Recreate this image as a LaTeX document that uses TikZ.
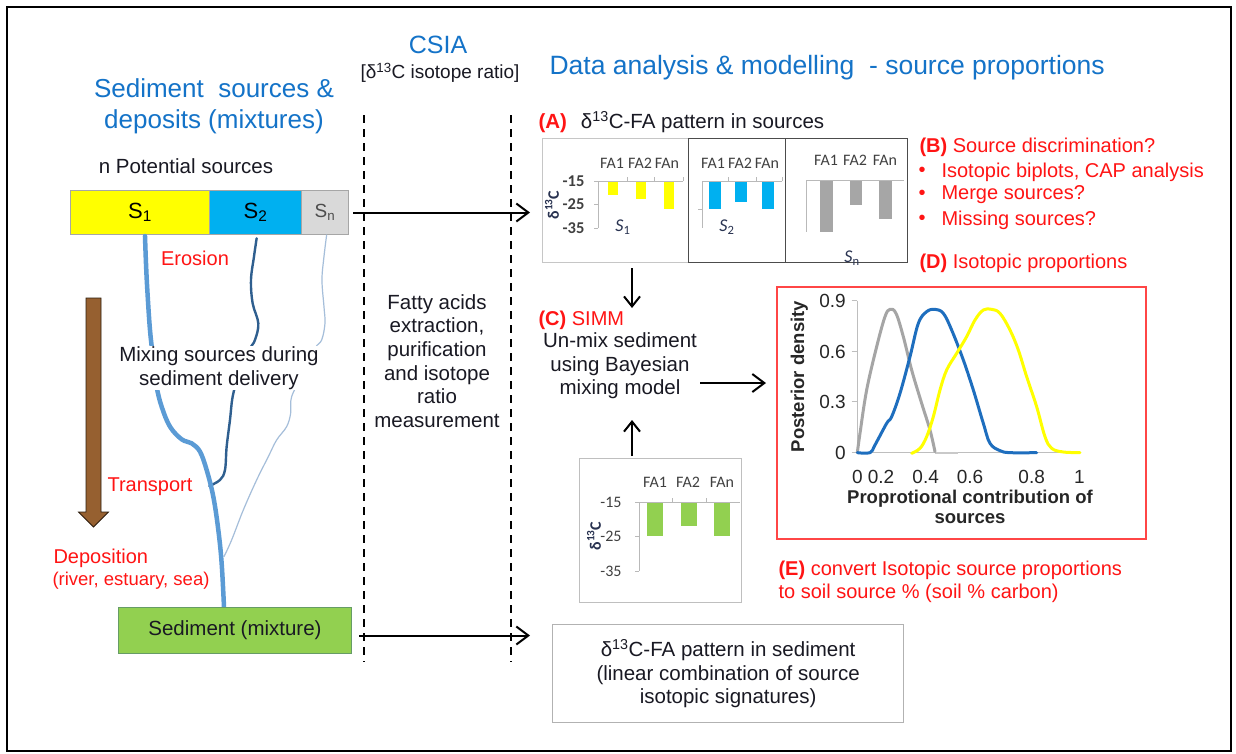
\documentclass[tikz,border=0pt]{standalone}
\usepackage{fontspec}
\setmainfont{Liberation Sans}
\newfontfamily\chartfont{Carlito}
\usetikzlibrary{arrows.meta,calc}

\definecolor{headblue}{RGB}{20,115,200}
\definecolor{txtred}{RGB}{255,20,20}
\definecolor{srcyellow}{RGB}{255,255,0}
\definecolor{srcblue}{RGB}{0,176,240}
\definecolor{srcgrey}{RGB}{217,217,217}
\definecolor{sedgreen}{RGB}{146,208,80}
\definecolor{riverlight}{RGB}{91,155,213}
\definecolor{riverdark}{RGB}{47,95,143}
\definecolor{riverpale}{RGB}{165,190,218}
\definecolor{barbrown}{RGB}{150,96,48}
\definecolor{curveblue}{RGB}{30,110,190}
\definecolor{curvegrey}{RGB}{165,165,165}
\definecolor{bargrey}{RGB}{166,166,166}
\definecolor{boxred}{RGB}{255,70,70}
\definecolor{axisgrey}{RGB}{190,190,190}
\definecolor{labelnavy}{RGB}{40,50,80}
\definecolor{bodytext}{RGB}{25,25,35}

\newcommand{\setfs}[2]{\fontsize{#1}{#2}\selectfont}

\begin{document}
\begin{tikzpicture}[x=1pt, y=-1pt,
  heading/.style={text=headblue, font=\setfs{26}{31}, align=center},
  body/.style={text=bodytext, font=\setfs{20.5}{23.6}, align=center},
  redlbl/.style={text=txtred, font=\setfs{20}{23.5}, align=left},
  arr/.style={-{Straight Barb[length=12pt,width=18pt]}, line width=2pt},
  divider/.style={line width=2.2pt, dash pattern=on 8pt off 6pt},
  srcbox/.style={draw=gray!70, line width=1pt, minimum height=44pt, inner sep=0pt, anchor=north west, font=\setfs{22}{24}},
  panel/.style={rectangle, anchor=north west, inner sep=0pt},
  falbl/.style={text=black!75, font=\chartfont\setfs{16}{18}},
  ticklbl/.style={text=black!75, font=\chartfont\setfs{16}{18}, anchor=east},
  boldtick/.style={ticklbl, font=\chartfont\bfseries\setfs{16.5}{18}},
  deltalbl/.style={falbl, rotate=90, text=labelnavy, font=\chartfont\bfseries\setfs{16}{18}},
  srclbl/.style={falbl, text=labelnavy, font=\chartfont\setfs{18}{20}},
  chartaxis/.style={draw=gray!55, line width=1pt},
  plotlbl/.style={text=black!85, font=\setfs{19}{21}},
  plotaxis/.style={font=\bfseries\setfs{18.5}{20}, text=black!85, align=center}
]
\useasboundingbox (0,0) rectangle (1236,753);
\fill[white] (0,0) rectangle (1236,753);
\draw[line width=2pt] (7,7) rectangle (1231,751);

% ---------- column headings ----------
\node[heading, font=\setfs{25}{28}] (csia) at (438,45) {CSIA};
\node[text=bodytext, font=\setfs{19}{22}] (csiasub) at (440,73) {[δ\textsuperscript{13}C isotope ratio]};
\node[heading] (sedhead) at (214,106) {Sediment\ \ sources \&\\deposits (mixtures)};
\node[heading, font=\setfs{26.5}{31}, anchor=west] (datahead) at (546,68) {Data analysis \& modelling\ \ - source proportions};

% ---------- dashed dividers ----------
\draw[divider] (364,115) -- (364,662);
\draw[divider] (511,115) -- (511,662);

% ---------- sources bar ----------
\node[body] (potential) at (186,166) {n Potential sources};
\node[srcbox, fill=srcyellow, minimum width=139pt] (s1) at (70,190) {S\textsubscript{1}};
\node[srcbox, fill=srcblue, minimum width=92pt] (s2) at (209,190) {S\textsubscript{2}};
\node[srcbox, fill=srcgrey, minimum width=47pt, text=black!70, font=\setfs{19}{22}] (sn) at (301,190) {S\textsubscript{n}};

% ---------- drainage network ----------
\begin{scope}[shift={(50,180)}, x=0.3333pt, y=-0.3333pt]
  \draw[riverpale, line width=1.2pt, line cap=round] plot[smooth, tension=0.6] coordinates
    {(830,165) (822,230) (816,300) (822,380) (825,430) (815,480) (795,505) (760,580) (725,650) (722,700) (710,740) (680,780) (655,830) (620,900) (580,990) (545,1080) (522,1130)};
  \draw[riverdark, line width=2.4pt, line cap=round] plot[smooth, tension=0.6] coordinates
    {(620,175) (612,230) (603,300) (608,370) (625,430) (615,480) (598,510) (565,590) (548,650) (540,720) (530,800) (525,870) (510,900) (478,918)};
  \draw[riverlight, line width=4.5pt, line cap=round] plot[smooth, tension=0.6] coordinates
    {(285,168) (288,250) (292,330) (300,450) (310,540) (320,620) (335,680) (360,740) (395,778) (425,790) (450,815) (470,870) (490,950) (505,1050) (515,1150) (522,1280)};
\end{scope}
\node[body, fill=white, inner sep=1pt] (mixing) at (219,368) {Mixing sources during\\sediment delivery};

% process arrow
\draw[draw=black!70!barbrown, fill=barbrown, line width=0.8pt]
  (86,298) -- (101,298) -- (101,512) -- (108.5,512) -- (93.5,527) -- (78.5,512) -- (86,512) -- cycle;

\node[redlbl] (erosion) at (195,258) {Erosion};
\node[redlbl] (transport) at (150,487) {Transport};
\node[redlbl, anchor=west] (deposition) at (50,558) {Deposition};
\node[redlbl, anchor=west, font=\setfs{18.5}{21}] (depsites) at (49,581) {(river, estuary, sea)};

% ---------- sediment ----------
\node[srcbox, fill=sedgreen, draw=green!35!black!60, minimum width=233pt, minimum height=46pt, font=\setfs{20.5}{23}, text=bodytext] (sed) at (118,607) {Sediment (mixture)};

% ---------- CSIA step ----------
\node[body] (fatty) at (437,361) {Fatty acids\\extraction,\\purification\\and isotope\\ratio\\measurement};

% ---------- (A) source patterns ----------
\node[text=bodytext, font=\setfs{20.5}{23}, anchor=west] (atitle) at (535,122)
  {{\color{txtred}\bfseries (A)}\hspace{14pt}δ\textsuperscript{13}C-FA pattern in sources};

\node[panel, draw=gray!45, line width=1pt, minimum width=146pt, minimum height=124pt] (panel1) at (542,138) {};
\node[panel, draw=gray!60!black, line width=1.4pt, minimum width=97pt, minimum height=124pt] (panel2) at (688,138) {};
\node[panel, draw=gray!60!black, line width=1.4pt, minimum width=122pt, minimum height=124pt] (panel3) at (785,138) {};

% panel 1
\node[falbl] at (612,163) {FA1};
\node[falbl] at (640,163) {FA2};
\node[falbl] at (667,163) {FAn};
\fill[srcyellow] (608,181) rectangle (618,195);
\fill[srcyellow] (636,181) rectangle (646,199);
\fill[srcyellow] (664,181) rectangle (674,209);
\draw[chartaxis] (598,181) -- (598,228) (594,181) -- (598,181) (594,204.5) -- (598,204.5) (594,228) -- (598,228);
\draw[chartaxis] (598,181) -- (683,181) (627,181) -- (627,177) (654,181) -- (654,177) (683,181) -- (683,177);
\node[boldtick] at (588,181) {-15};
\node[boldtick] at (588,204.5) {-25};
\node[boldtick] at (588,228) {-35};
\node[deltalbl] at (552,205) {δ\textsuperscript{13}C};
\node[srclbl] at (623,227) {\textit{S}\textsubscript{1}};

% panel 2
\node[falbl] at (713,163) {FA1};
\node[falbl] at (740,163) {FA2};
\node[falbl] at (767,163) {FAn};
\fill[srcblue] (709,181) rectangle (721,209);
\fill[srcblue] (735,181) rectangle (747,202);
\fill[srcblue] (762,181) rectangle (774,209);
\draw[chartaxis] (702,181) -- (702,228) (698,209) -- (702,209);
\draw[chartaxis] (702,181) -- (782,181) (728,181) -- (728,177) (756,181) -- (756,177) (782,181) -- (782,177);
\node[srclbl] at (727,227) {\textit{S}\textsubscript{2}};

% panel 3
\node[falbl] at (826,160) {FA1};
\node[falbl] at (855,160) {FA2};
\node[falbl] at (885,160) {FAn};
\fill[bargrey] (820,180) rectangle (833,232);
\fill[bargrey] (850,180) rectangle (862,205);
\fill[bargrey] (879,180) rectangle (892,219);
\draw[chartaxis] (806,180) -- (806,232);
\draw[chartaxis] (806,180) -- (904,180);
\node[srclbl] at (852,258) {\textit{S}\textsubscript{n}};

% ---------- (B) and (D) notes ----------
\node[redlbl, anchor=west] (btitle) at (916,147) {\textbf{(B)} Source discrimination?};
\foreach \y/\t [count=\i] in {172/{Isotopic biplots, CAP analysis}, 195/{Merge sources?}, 220/{Missing sources?}} {
  \node[redlbl, anchor=center] (bdot\i) at (922,\y) {•};
  \node[redlbl, anchor=west] (bitem\i) at (938,\y) {\t};
}
\node[redlbl, anchor=west] (dtitle) at (916,263) {\textbf{(D)} Isotopic proportions};

% ---------- (C) mixing model ----------
\node[redlbl, anchor=west] (ctitle) at (535,320) {\textbf{(C)} SIMM};
\node[body] (simm) at (620,366) {Un-mix sediment\\using Bayesian\\mixing model};
\coordinate (downstart) at (632,268);
\coordinate (downend) at (632,308);
\coordinate (upstart) at (632,456);
\coordinate (upend) at (632,420);
\draw[arr, -{Straight Barb[length=10pt,width=16pt]}] (downstart) -- (downend);
\draw[arr, -{Straight Barb[length=10pt,width=16pt]}] (upstart) -- (upend);

% sediment pattern chart
\node[panel, draw=gray!50, line width=1pt, minimum width=162pt, minimum height=144pt] (sedchart) at (579,458) {};
\node[falbl] at (655,482) {FA1};
\node[falbl] at (688,482) {FA2};
\node[falbl] at (722,482) {FAn};
\fill[sedgreen] (647,502) rectangle (663,536);
\fill[sedgreen] (681,502) rectangle (697,526);
\fill[sedgreen] (714,502) rectangle (730,536);
\draw[chartaxis] (639,502) -- (639,571) (635,502) -- (639,502) (635,536) -- (639,536) (635,571) -- (639,571);
\draw[chartaxis] (639,502) -- (740,502) (672,502) -- (672,498) (706,502) -- (706,498);
\node[ticklbl] at (625,502) {-15};
\node[ticklbl] at (625,536) {-25};
\node[ticklbl] at (625,571) {-35};
\node[deltalbl] at (594,536) {δ\textsuperscript{13}C};

% ---------- (D) posterior densities ----------
\node[panel, draw=boxred, line width=1.5pt, minimum width=369pt, minimum height=252pt] (plotbox) at (776,286) {};
\draw[arr] ([yshift=-17pt]simm.east) -- ([yshift=-17pt, xshift=-10pt]simm.east -| plotbox.west);

\begin{scope}[shift={(770,280)}, x=0.3333pt, y=-0.3333pt]
  \draw[axisgrey, line width=1.2pt] (262,62) -- (262,518) -- (930,518);
  \foreach \yy in {62,215,365,518} \draw[axisgrey, line width=1.2pt] (245,\yy) -- (262,\yy);
  \foreach \yy/\lab in {62/0.9, 215/0.6, 365/0.3, 518/0}
    \node[plotlbl, anchor=east] at (238,\yy) {\lab};
  \foreach \xx/\lab in {262/0, 333/0.2, 467/0.4, 600/0.6, 785/0.8, 928/1}
    \node[plotlbl] at (\xx,590) {\lab};
  \draw[curvegrey!60, line width=2pt] (495,518) -- (565,518);
  \draw[curvegrey, line width=3pt, line cap=round, line join=round] plot[smooth, tension=0.6] coordinates
    {(262,518) (270,460) (290,330) (320,200) (345,110) (360,88) (378,100) (400,170) (425,270) (455,370) (480,450) (495,515)};
  \draw[curveblue, line width=3pt, line cap=round, line join=round] plot[smooth, tension=0.6] coordinates
    {(262,518) (300,518) (315,495) (350,430) (365,410) (390,340) (420,230) (445,130) (470,95) (495,88) (520,100) (545,150) (580,240) (610,330) (640,430) (660,490) (690,512) (720,518) (800,518)};
  \draw[srcyellow, line width=3pt, line cap=round, line join=round] plot[smooth, tension=0.6] coordinates
    {(425,520) (450,505) (470,470) (490,410) (510,330) (530,270) (560,220) (590,170) (615,120) (640,90) (665,88) (690,100) (720,150) (745,210) (770,290) (800,380) (825,470) (845,505) (880,516) (930,518)};
  \node[plotaxis, rotate=90] at (88,290) {Posterior density};
  \node[plotaxis] at (600,655) {Proprotional contribution of};
  \node[plotaxis] at (600,715) {sources};
\end{scope}

% ---------- (E) conversion note ----------
\node[redlbl, anchor=west] (etitle) at (775,570) {\textbf{(E)} convert Isotopic source proportions};
\node[redlbl, anchor=west] (esub) at (775,593) {to soil source \% (soil \% carbon)};

% ---------- sediment pattern ----------
\node[panel, draw=gray!60, line width=1.2pt, minimum width=351pt, minimum height=98pt] (sedbox) at (552,624) {};
\node[body] (sedtext) at (sedbox.center) {δ\textsuperscript{13}C-FA pattern in sediment\\(linear combination of source\\isotopic signatures)};

% ---------- flow arrows ----------
\draw[arr, shorten <=4pt, shorten >=12pt] (sn.east) -- (sn.east -| panel1.west);
\draw[arr] ([shift={(7pt,-5pt)}]sed.east) -- ([shift={(-22pt,-5pt)}]sed.east -| sedbox.west);
\end{tikzpicture}
\end{document}
